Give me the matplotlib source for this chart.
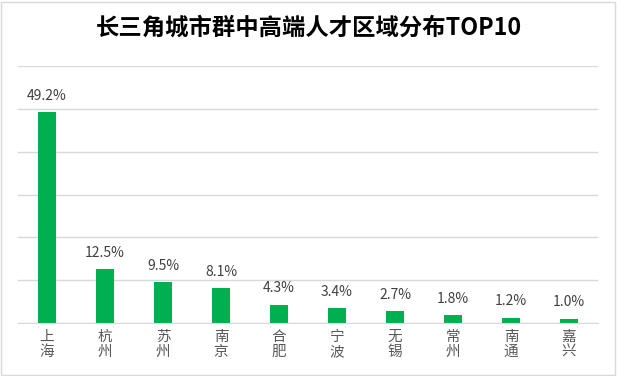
import matplotlib
matplotlib.use("Agg")
import matplotlib.pyplot as plt
from matplotlib.patches import Rectangle

plt.rcParams['font.family'] = ['Noto Sans CJK SC', 'DejaVu Sans']

cities = ["上海", "杭州", "苏州", "南京", "合肥", "宁波", "无锡", "常州", "南通", "嘉兴"]
values = [49.2, 12.5, 9.5, 8.1, 4.3, 3.4, 2.7, 1.8, 1.2, 1.0]
title = "长三角城市群中高端人才区域分布TOP10"

fig = plt.figure(figsize=(6.17, 3.76), dpi=100)
ax = fig.add_axes([18/617, 1-323/376, 580/617, 257/376])

x = list(range(len(cities)))
bars = ax.bar(x, values, width=0.31, color="#00B050", zorder=3)
for xi, v in zip(x, values):
    ax.annotate(f"{v:.1f}%", (xi, v), xytext=(0, 7), textcoords="offset points",
                ha="center", va="bottom", fontsize=10, color="#404040")

ax.set_xlim(-0.5, len(cities) - 0.5)
ax.set_ylim(0, 60)
ax.set_yticks(range(0, 61, 10))
ax.yaxis.grid(True, color="#D9D9D9", linewidth=1, zorder=0)
ax.tick_params(axis="y", left=False, labelleft=False)
ax.tick_params(axis="x", length=0, pad=5)
ax.set_xticks(x)
ax.set_xticklabels(["\n".join(c) for c in cities], fontsize=10.5, color="#595959",
                   linespacing=1.1)
for s in ["top", "left", "right"]:
    ax.spines[s].set_visible(False)
ax.spines["bottom"].set_color("#D9D9D9")
ax.spines["bottom"].set_zorder(4)

fig.text(0.5, 1-28/376, title, ha="center", va="center", fontsize=16.8,
         fontweight="bold", color="#000000")

fig.patches.append(Rectangle((1/617, 1/376), 614/617, 373/376, transform=fig.transFigure,
                             fill=False, edgecolor="#D9D9D9", linewidth=1))

fig.savefig("out.png", dpi=100)
